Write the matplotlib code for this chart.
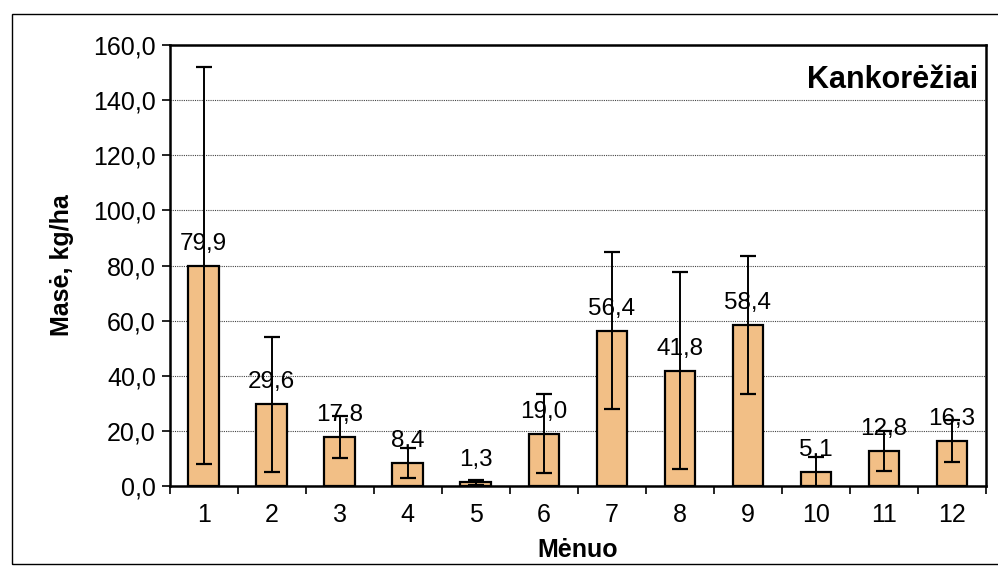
import numpy as np
import matplotlib
matplotlib.use("Agg")
import matplotlib.pyplot as plt
from matplotlib.patches import Rectangle
from matplotlib.ticker import FuncFormatter, FixedLocator

plt.rcParams['font.family'] = ['Liberation Sans', 'DejaVu Sans']

months = [1, 2, 3, 4, 5, 6, 7, 8, 9, 10, 11, 12]
mass = [79.9, 29.6, 17.8, 8.4, 1.3, 19.0, 56.4, 41.8, 58.4, 5.1, 12.8, 16.3]
err = [72.0, 24.4, 7.6, 5.5, 1.0, 14.4, 28.4, 35.8, 25.0, 5.4, 7.3, 7.6]

fig = plt.figure(figsize=(9.98, 5.71), dpi=100)
# outer chart frame
fig.patches.append(Rectangle((0.012, 0.013), 1.2, 0.962, transform=fig.transFigure,
                             fill=False, edgecolor='black', linewidth=1.0))
ax = fig.add_axes([0.170, 0.149, 0.818, 0.772])

x = np.arange(len(months))
ax.bar(x, mass, width=0.45, color='#F2BF86', edgecolor='black', linewidth=1.6, zorder=3)
ax.errorbar(x, mass, yerr=err, fmt='none', ecolor='black', elinewidth=1.4,
            capsize=6, capthick=1.6, zorder=4)
for xi, v in zip(x, mass):
    ax.text(xi, v + 4.0, f"{v:.1f}".replace('.', ','), ha='center', va='bottom',
            fontsize=17.5, zorder=5)

ax.set_xlim(-0.5, len(months) - 0.5)
ax.set_ylim(0, 160)
ax.set_yticks(np.arange(0, 161, 20))
ax.yaxis.set_major_formatter(FuncFormatter(lambda v, p: f"{v:.1f}".replace('.', ',')))
ax.set_xticks(x)
ax.set_xticklabels([str(m) for m in months])
ax.xaxis.set_minor_locator(FixedLocator(np.arange(-0.5, len(months), 1.0)))
ax.tick_params(axis='x', which='major', length=0, labelsize=18, pad=12)
ax.tick_params(axis='x', which='minor', length=6, width=1.2, direction='out')
ax.tick_params(axis='y', length=6, width=1.2, labelsize=18, pad=4)

ax.grid(axis='y', linestyle=(0, (1, 1)), color='#444444', linewidth=0.8, zorder=0)
for s in ax.spines.values():
    s.set_linewidth(1.8)

ax.set_xlabel('Mėnuo', fontsize=18, fontweight='bold', labelpad=8)
ax.set_ylabel('Masė, kg/ha', fontsize=18, fontweight='bold', labelpad=14)
ax.text(0.99, 0.92, 'Kankorėžiai', transform=ax.transAxes, ha='right', va='center',
        fontsize=22, fontweight='bold')

fig.savefig('out.png', dpi=100)
